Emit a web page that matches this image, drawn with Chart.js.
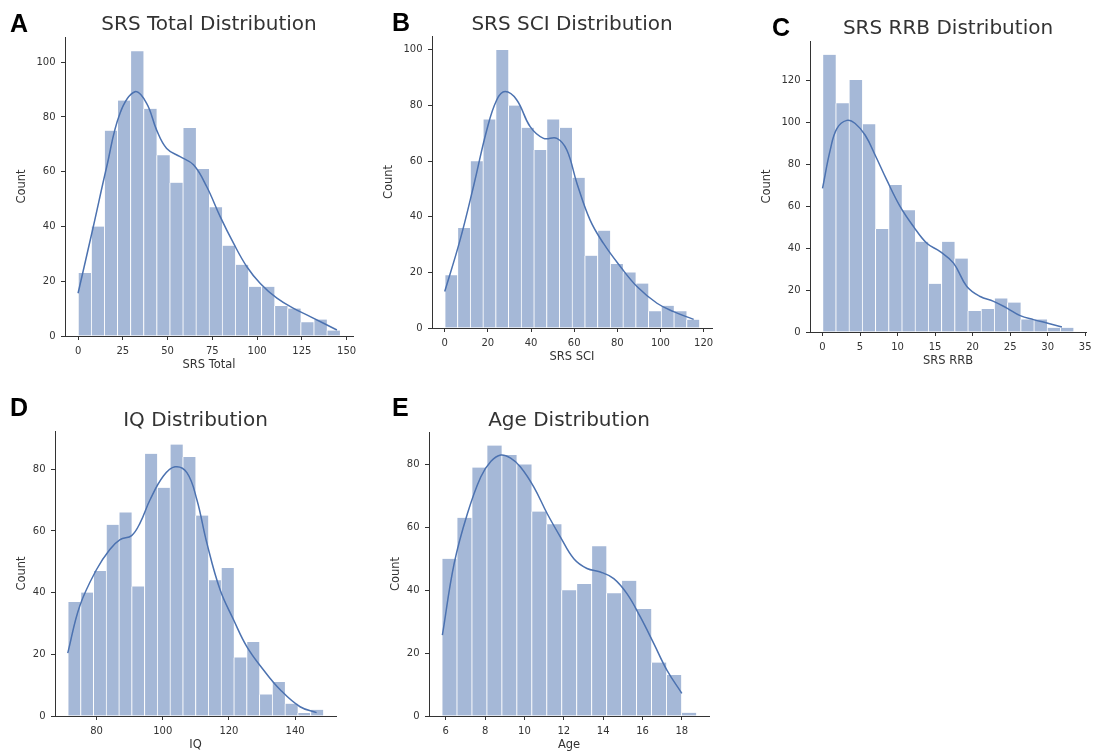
<!DOCTYPE html>
<html>
<head>
<meta charset="utf-8">
<title>Distributions</title>
<script src="https://cdn.jsdelivr.net/npm/chart.js@4.4.0/dist/chart.umd.min.js"></script>
<style>
  body { margin: 0; background: #fff; width: 1093px; height: 754px; position: relative; overflow: hidden; }
  canvas { position: absolute; }
  .tag { position: absolute; font: bold 25px/25px "Liberation Sans", Arial, sans-serif; color: #000; z-index: 2; }
</style>
</head>
<body>
<div class="tag" style="left:10px;top:11px">A</div>
<div class="tag" style="left:392px;top:10px">B</div>
<div class="tag" style="left:772px;top:15px">C</div>
<div class="tag" style="left:10px;top:395px">D</div>
<div class="tag" style="left:392px;top:395px">E</div>

<script>
// SRS Total
const srsTotalCounts = [23, 40, 75, 86, 104, 83, 66, 56, 76, 61, 47, 33, 26, 18, 18, 11, 10, 5, 6, 2];
const srsTotalKdeX = [0, 8.5, 16, 23.4, 31.8, 38.3, 43.9, 49.5, 57, 64.5, 71.9, 79.4, 86.9, 94.3, 101.8, 111.1, 120.4, 129.7, 144.6];
const srsTotalKdeY = [15.6, 39.9, 61.8, 81.3, 89.2, 85, 75.2, 68.5, 65.5, 62.5, 54.5, 43.6, 33.8, 25.3, 19.2, 13.8, 10.1, 7.1, 2.2];
const srsTotalXTicks = [0, 25, 50, 75, 100, 125, 150];
const srsTotalYTicks = [0, 20, 40, 60, 80, 100];

// SRS SCI
const srsSciCounts = [19, 36, 60, 75, 100, 80, 72, 64, 75, 72, 54, 26, 35, 23, 20, 16, 6, 8, 6, 3];
const srsSciKdeX = [0, 7.1, 13.3, 19.5, 24.1, 28, 33.4, 39.6, 45.8, 52, 56.6, 61.3, 67.4, 73.6, 81.4, 89.1, 98.4, 106.1, 115.4];
const srsSciKdeY = [13.1, 31.6, 50.8, 71.2, 82, 85, 82, 72.4, 68.2, 68.2, 64, 52, 38.8, 30.4, 22.1, 14.9, 8.9, 5.9, 3.1];
const srsSciXTicks = [0, 20, 40, 60, 80, 100, 120];
const srsSciYTicks = [0, 20, 40, 60, 80, 100];

// SRS RRB
const srsRrbCounts = [132, 109, 120, 99, 49, 70, 58, 43, 23, 43, 35, 10, 11, 16, 14, 6, 6, 2, 2];
const srsRrbKdeX = [0, 1.02, 1.91, 3.24, 4.35, 5.69, 7.02, 8.57, 10.35, 12.13, 13.9, 15.68, 17.46, 19.23, 21.01, 22.79, 24.57, 26.34, 28.12, 29.9, 31.9];
const srsRrbKdeY = [68.4, 86.6, 96.9, 100.8, 99.3, 93.7, 84.2, 72.3, 59.7, 50.2, 42.3, 38.3, 32.8, 21.7, 16.9, 14.6, 11.4, 7.8, 5.9, 4.3, 2.4];
const srsRrbXTicks = [0, 5, 10, 15, 20, 25, 30, 35];
const srsRrbYTicks = [0, 20, 40, 60, 80, 100, 120];

// IQ
const iqCounts = [37, 40, 47, 62, 66, 42, 85, 74, 88, 84, 65, 44, 48, 19, 24, 7, 11, 4, 1, 2];
const iqKdeX = [71.3, 74.9, 80, 84, 87.1, 90.6, 93.2, 96.2, 100.2, 103.7, 107.3, 110.3, 113.3, 117.3, 121.4, 125.4, 130.4, 135.5, 141.5, 146.5];
const iqKdeY = [20.4, 35.6, 47.5, 54, 57.2, 58.5, 62.7, 70.2, 77.8, 80.8, 78.9, 70.2, 56.2, 41, 31.2, 22.5, 15, 8.5, 3, 1.1];
const iqXTicks = [80, 100, 120, 140];
const iqYTicks = [0, 20, 40, 60, 80];

// Age
const ageCounts = [50, 63, 79, 86, 83, 80, 65, 61, 40, 42, 54, 39, 43, 34, 17, 13, 1];
const ageKdeX = [5.83, 6.43, 7.1, 7.78, 8.3, 8.8, 9.3, 9.8, 10.48, 11.16, 11.83, 12.51, 13.18, 13.86, 14.54, 15.21, 15.89, 16.57, 17.24, 18];
const ageKdeY = [25.7, 48.5, 64.3, 76, 81, 83, 82, 79.2, 72.8, 64.3, 56.9, 50, 46.9, 45.8, 43.7, 38.9, 31.5, 23.1, 14.6, 7.2];
const ageXTicks = [6, 8, 10, 12, 14, 16, 18];
const ageYTicks = [0, 20, 40, 60, 80];

const ink = '#333';
Chart.defaults.font.family = "'DejaVu Sans', sans-serif";

// draw one histogram + kde panel, L/R/T/B = plot box in page pixels
function makeHist(p) {
    const xH = 36;
    const titleH = 30;
    const cv = document.createElement('canvas');
    cv.width = p.yW + (p.R - p.L) + p.padR;
    cv.height = titleH + (p.B - p.T) + xH;
    cv.style.left = (p.L - p.yW) + 'px';
    cv.style.top = (p.T - titleH) + 'px';
    document.body.appendChild(cv);

    const bars = p.counts.map((c, i) => ({ x: p.binStart + p.binWidth * (i + 0.5), y: c }));
    const kde = p.kdeX.map((x, i) => ({ x: x, y: p.kdeY[i] }));

    new Chart(cv, {
        type: 'bar',
        data: {
            datasets: [
                {
                    type: 'line',
                    data: kde,
                    borderColor: '#4c72b0',
                    borderWidth: 1.5,
                    pointRadius: 0,
                    tension: 0.4,
                    order: 0
                },
                {
                    data: bars,
                    backgroundColor: 'rgba(76, 114, 176, 0.5)',
                    borderColor: '#fff',
                    borderWidth: { left: 1, right: 0, top: 0, bottom: 0 },
                    barPercentage: 1,
                    categoryPercentage: 1,
                    order: 1
                }
            ]
        },
        options: {
            responsive: false,
            animation: false,
            layout: { padding: { left: 0, right: p.padR, top: 0, bottom: 0 } },
            plugins: {
                legend: { display: false },
                tooltip: { enabled: false },
                title: {
                    display: true,
                    text: p.title,
                    fullSize: false,
                    color: ink,
                    font: { size: 20, weight: 'normal', lineHeight: 1 },
                    padding: { top: 20 - p.gap, bottom: p.gap - 10 }
                }
            },
            scales: {
                x: {
                    type: 'linear',
                    min: p.xMin,
                    max: p.xMax,
                    offset: false,
                    z: 1,
                    grid: { display: true, drawOnChartArea: false, drawTicks: true, tickLength: 4, color: ink, offset: false },
                    border: { display: true, color: ink, width: 1 },
                    ticks: { color: ink, font: { size: 10 }, padding: 5.5, maxRotation: 0, autoSkip: false },
                    title: { display: true, text: p.xLabel, color: ink, font: { size: 11.5 }, padding: 0 },
                    afterBuildTicks: s => { s.ticks = p.xTicks.map(v => ({ value: v })); },
                    afterFit: s => { s.height = xH; s.paddingLeft = 0; s.paddingRight = 0; }
                },
                y: {
                    type: 'linear',
                    min: 0,
                    max: p.yMax,
                    z: 1,
                    grid: { display: true, drawOnChartArea: false, drawTicks: true, tickLength: 4, color: ink },
                    border: { display: true, color: ink, width: 1 },
                    ticks: { color: ink, font: { size: 10 }, padding: 5.5 },
                    title: { display: true, text: 'Count', color: ink, font: { size: 11.5 }, padding: 0 },
                    afterBuildTicks: s => { s.ticks = p.yTicks.map(v => ({ value: v })); },
                    afterFit: s => { s.width = p.yW; s.paddingTop = 0; s.paddingBottom = 0; }
                }
            }
        }
    });
}

makeHist({ title: 'SRS Total Distribution', xLabel: 'SRS Total', L: 65, R: 353, T: 37, B: 336, yW: 50, padR: 20, gap: 12.6,
    counts: srsTotalCounts, binStart: 0, binWidth: 7.315, kdeX: srsTotalKdeX, kdeY: srsTotalKdeY,
    xMin: -7.3, xMax: 153.6, yMax: 109.2, xTicks: srsTotalXTicks, yTicks: srsTotalYTicks });

makeHist({ title: 'SRS SCI Distribution', xLabel: 'SRS SCI', L: 432, R: 712, T: 36, B: 328, yW: 50, padR: 20, gap: 11.6,
    counts: srsSciCounts, binStart: 0, binWidth: 5.9, kdeX: srsSciKdeX, kdeY: srsSciKdeY,
    xMin: -5.9, xMax: 123.9, yMax: 105, xTicks: srsSciXTicks, yTicks: srsSciYTicks });

makeHist({ title: 'SRS RRB Distribution', xLabel: 'SRS RRB', L: 810, R: 1086, T: 41, B: 332, yW: 50, padR: 7, gap: 12.6,
    counts: srsRrbCounts, binStart: 0, binWidth: 1.76, kdeX: srsRrbKdeX, kdeY: srsRrbKdeY,
    xMin: -1.67, xMax: 35.11, yMax: 138.6, xTicks: srsRrbXTicks, yTicks: srsRrbYTicks });

makeHist({ title: 'IQ Distribution', xLabel: 'IQ', L: 55, R: 336, T: 431, B: 716, yW: 40, padR: 20, gap: 10,
    counts: iqCounts, binStart: 71.3, binWidth: 3.86, kdeX: iqKdeX, kdeY: iqKdeY,
    xMin: 67.44, xMax: 152.36, yMax: 92.4, xTicks: iqXTicks, yTicks: iqYTicks });

makeHist({ title: 'Age Distribution', xLabel: 'Age', L: 429, R: 709, T: 432, B: 716, yW: 40, padR: 20, gap: 11.6,
    counts: ageCounts, binStart: 5.8, binWidth: 0.7606, kdeX: ageKdeX, kdeY: ageKdeY,
    xMin: 5.15, xMax: 19.38, yMax: 90.3, xTicks: ageXTicks, yTicks: ageYTicks });
</script>
</body>
</html>
